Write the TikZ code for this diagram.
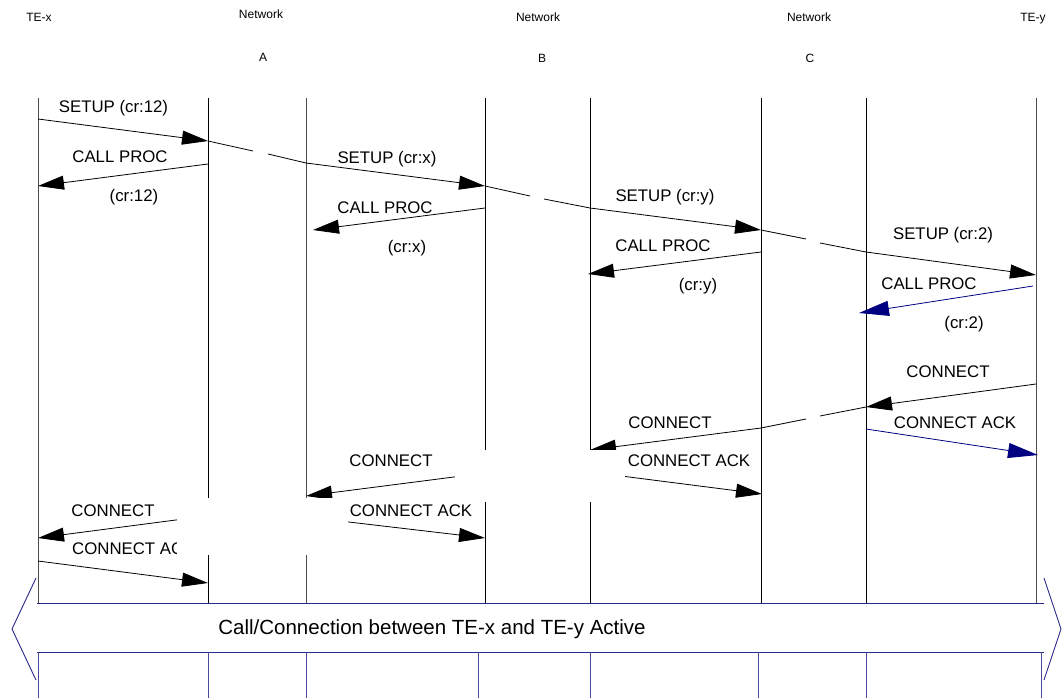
\documentclass[tikz,border=0pt]{standalone}
\usepackage{fontspec}
\setmainfont{Liberation Sans}
\usetikzlibrary{arrows.meta}
\definecolor{navy}{RGB}{0,0,128}
\definecolor{bnavy}{RGB}{40,40,140}
\begin{document}
\begin{tikzpicture}[x=1pt,y=-1pt,
  life/.style={line width=0.9pt,black},
  glife/.style={line width=0.9pt,black!70},
  msg/.style={line width=0.8pt,-{Triangle[length=26pt,width=14pt]}},
  bmsg/.style={line width=0.8pt,navy,-{Triangle[length=30pt,width=15pt]}},
  seg/.style={line width=0.8pt},
  lbl/.style={inner sep=0pt,font=\fontsize{16.8}{20}\selectfont,text height=12pt,text depth=0pt},
  biglbl/.style={inner sep=0pt,font=\fontsize{20.5}{24}\selectfont,text height=14.7pt,text depth=0pt},
  hdr/.style={inner sep=0pt,font=\fontsize{12}{14}\selectfont,text height=8.6pt,text depth=0pt},
  mask/.style={fill=white,draw=none},
  band/.style={line width=0.9pt,bnavy},
  blife/.style={line width=0.9pt,bnavy!85}]
\useasboundingbox (0,0) rectangle (1062,698);

% headers
\node[hdr] (hx) at (39,17) {TE-x};
\node[hdr] (hna) at (261,14) {Network};
\node[hdr] (hla) at (263,57) {A};
\node[hdr] (hnb) at (538,17) {Network};
\node[hdr] (hlb) at (542,58) {B};
\node[hdr] (hnc) at (809,17) {Network};
\node[hdr] (hlc) at (810,58) {C};
\node[hdr] (hy) at (1033,17) {TE-y};

% lifelines
\foreach \n/\x in {0/38,1/208,2/306,3/485,4/590,5/761,6/866,7/1036}{
  \coordinate (t\n) at (\x,98);
  \coordinate (b\n) at (\x,603);
}
\draw[glife] (t0) -- (b0);
\draw[life] (t1) -- (b1);
\draw[glife] (t2) -- (b2);
\draw[life] (t3) -- (b3);
\draw[life] (t4) -- (b4);
\draw[life] (t5) -- (b5);
\draw[life] (t6) -- (b6);
\draw[glife] (t7) -- (b7);

% message end points
\coordinate (s1a) at (38,119);  \coordinate (s1b) at (208,141);
\coordinate (i1a) at (253,151); \coordinate (i1b) at (268,154);
\coordinate (s2a) at (306,163); \coordinate (s2b) at (485,186);
\coordinate (i2a) at (530,196); \coordinate (i2b) at (544,199);
\coordinate (s3a) at (590,208); \coordinate (s3b) at (761,230);
\coordinate (i3a) at (806,239); \coordinate (i3b) at (820,243);
\coordinate (s4a) at (866,252); \coordinate (s4b) at (1036,275);
\coordinate (p1a) at (208,164); \coordinate (p1b) at (38,186);
\coordinate (p2a) at (485,208); \coordinate (p2b) at (313,230);
\coordinate (p3a) at (761,252); \coordinate (p3b) at (588,274);
\coordinate (p4a) at (1033,286); \coordinate (p4b) at (859,313);
\coordinate (c1a) at (1036,384); \coordinate (c1b) at (866,407);
\coordinate (j1a) at (820,416); \coordinate (j1b) at (806,419);
\coordinate (c2a) at (761,428); \coordinate (c2b) at (590,450);
\coordinate (k1a) at (866,429); \coordinate (k1b) at (1038,455);
\coordinate (c3a) at (485,473); \coordinate (c3b) at (306,496);
\coordinate (k2a) at (590,472); \coordinate (k2b) at (762,494);
\coordinate (c4a) at (306,503); \coordinate (c4b) at (38,538);
\coordinate (k3a) at (306,517); \coordinate (k3b) at (485,538);
\coordinate (k4a) at (38,561);  \coordinate (k4b) at (208,583);

% SETUP chain
\draw[msg] (s1a) -- (s1b);
\draw[seg] (s1b) -- (i1a);
\draw[seg] (i1b) -- (s2a);
\draw[msg] (s2a) -- (s2b);
\draw[seg] (s2b) -- (i2a);
\draw[seg] (i2b) -- (s3a);
\draw[msg] (s3a) -- (s3b);
\draw[seg] (s3b) -- (i3a);
\draw[seg] (i3b) -- (s4a);
\draw[msg] (s4a) -- (s4b);

% CALL PROC
\draw[msg] (p1a) -- (p1b);
\draw[msg] (p2a) -- (p2b);
\draw[msg] (p3a) -- (p3b);
\draw[bmsg] (p4a) -- (p4b);

% CONNECT / CONNECT ACK
\draw[msg] (c1a) -- (c1b);
\draw[seg] (c1b) -- (j1a);
\draw[seg] (j1b) -- (c2a);
\draw[msg] (c2a) -- (c2b);
\draw[bmsg] (k1a) -- (k1b);
\draw[msg] (c3a) -- (c3b);
\draw[msg] (k2a) -- (k2b);
\draw[msg] (c4a) -- (c4b);
\draw[msg] (k3a) -- (k3b);
\draw[msg] (k4a) -- (k4b);

% labels
\node[lbl] (l1) at (113.5,107) {SETUP (cr:12)};
\node[lbl] (l2) at (120,156) {CALL PROC};
\node[lbl] (l3) at (134,195) {(cr:12)};
\node[lbl] (l4) at (387,157) {SETUP (cr:x)};
\node[lbl] (l5) at (385,207) {CALL PROC};
\node[lbl] (l6) at (407,246) {(cr:x)};
\node[lbl] (l7) at (665,195) {SETUP (cr:y)};
\node[lbl] (l8) at (663,245) {CALL PROC};
\node[lbl] (l9) at (698,284) {(cr:y)};
\node[lbl] (l10) at (943,233) {SETUP (cr:2)};
\node[lbl] (l11) at (929,283) {CALL PROC};
\node[lbl] (l12) at (964,322) {(cr:2)};
\node[lbl] (l13) at (948,371) {CONNECT};
\node[lbl] (l14) at (955,422) {CONNECT ACK};
\node[lbl] (l15) at (670,422) {CONNECT};
\node[lbl] (l16) at (689,460) {CONNECT ACK};
\node[lbl] (l17) at (391,460) {CONNECT};
\node[lbl] (l18) at (411,510) {CONNECT ACK};
\node[lbl] (l19) at (113,510) {CONNECT};
\node[lbl,anchor=west] (l20) at (72,548) {CONNECT ACK};

% white masks
\fill[mask] (177,498) rectangle (348,555);
\fill[mask] (455,450) rectangle (625,502);

% active band
\coordinate (ul) at (37,603); \coordinate (ur) at (1044,603);
\coordinate (ll) at (37,652); \coordinate (lr) at (1044,652);
\coordinate (lc1) at (36,578); \coordinate (lc2) at (12,629); \coordinate (lc3) at (36,680);
\coordinate (rc1) at (1044,578); \coordinate (rc2) at (1061,629); \coordinate (rc3) at (1044,680);
\draw[band] (ul) -- (ur);
\draw[band] (ll) -- (lr);
\draw[band] (lc1) -- (lc2) -- (lc3);
\draw[band] (rc1) -- (rc2) -- (rc3);
\node[biglbl] (act) at (432,627) {Call/Connection between TE-x and TE-y Active};

\foreach \n/\x in {0/38,1/208,2/306,3/478,4/590,5/758,6/866,7/1041}{
  \coordinate (u\n) at (\x,652);
  \coordinate (d\n) at (\x,698);
  \draw[blife] (u\n) -- (d\n);
}
\end{tikzpicture}
\end{document}
